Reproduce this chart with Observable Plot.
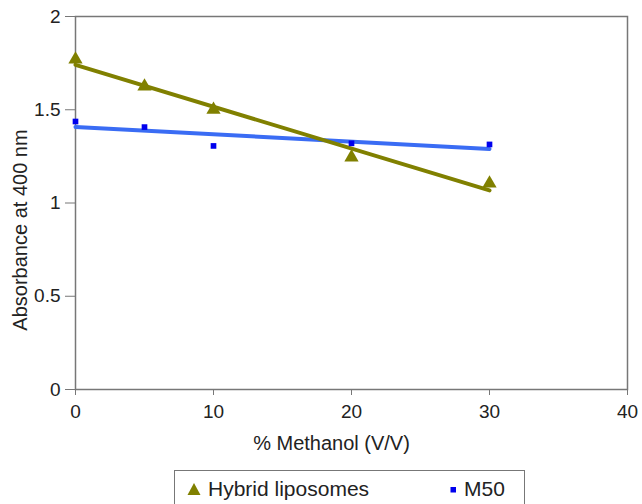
<!DOCTYPE html>
<html>
<head>
<meta charset="utf-8">
<script src="https://cdn.jsdelivr.net/npm/d3@7"></script>
<script src="https://cdn.jsdelivr.net/npm/@observablehq/plot@0.6"></script>
<style>
  html, body { margin: 0; padding: 0; background: #fff; overflow: hidden; }
  body { width: 642px; height: 504px; position: relative; font-family: "Liberation Sans", Arial, sans-serif; }
  #legend { position: absolute; left: 174px; top: 470px; width: 351px; height: 40px; border: 1.5px solid #777; box-sizing: border-box; font-size: 21px; color: #222; }
  #legend .item { position: absolute; top: 6px; display: flex; align-items: center; }
  #legend svg { margin-right: 7px; }
</style>
</head>
<body>
<div id="chart"></div>
<div id="legend"></div>
<script>
const methanol = [0, 5, 10, 20, 30];
const hybrid = [1.77, 1.625, 1.50, 1.245, 1.105];
const m50 = [1.437, 1.407, 1.306, 1.32, 1.314];
const xTicks = [0, 10, 20, 30, 40];
const yTicks = [0, 0.5, 1, 1.5, 2];
const seriesNames = ["Hybrid liposomes", "M50"];
const colors = { hybridMarker: "#808000", hybridLine: "#808000", m50Marker: "#0000ee", m50Line: "#3a6cf4" };

const hybridData = methanol.map((x, i) => ({ x, y: hybrid[i] }));
const m50Data = methanol.map((x, i) => ({ x, y: m50[i] }));

const chart = Plot.plot({
  width: 642,
  height: 465,
  marginLeft: 75,
  marginRight: 15,
  marginTop: 16,
  marginBottom: 76,
  style: { fontFamily: "Liberation Sans, Arial, sans-serif", fontSize: "19px", color: "#222", background: "#fff" },
  x: { domain: [0, 40] },
  y: { domain: [0, 2] },
  marks: [
    Plot.frame({ stroke: "#777", strokeWidth: 1.5 }),
    Plot.axisX({ ticks: xTicks, tickSize: 6, tickPadding: 9, label: null, stroke: "#777", fontSize: 19 }),
    Plot.axisY({ ticks: yTicks, tickSize: 10, tickPadding: 5, label: null, stroke: "#777", fontSize: 19, tickFormat: d => String(d) }),
    Plot.text(["% Methanol (V/V)"], { frameAnchor: "bottom", textAnchor: "middle", dx: -20, dy: 54, fontSize: 20, lineAnchor: "middle", fill: "#222" }),
    Plot.text(["Absorbance at 400 nm"], { frameAnchor: "left", textAnchor: "middle", rotate: -90, dx: -55, dy: 27, fontSize: 20, lineAnchor: "middle", fill: "#222" }),
    Plot.linearRegressionY(m50Data, { x: "x", y: "y", ci: 0, stroke: colors.m50Line, strokeWidth: 4 }),
    Plot.linearRegressionY(hybridData, { x: "x", y: "y", ci: 0, stroke: colors.hybridLine, strokeWidth: 4 }),
    Plot.dot(hybridData, { x: "x", y: "y", symbol: "triangle", r: 5.3, fill: colors.hybridMarker, stroke: "none" }),
    Plot.dot(m50Data, { x: "x", y: "y", symbol: "square", r: 3.2, fill: colors.m50Marker, stroke: "none" })
  ]
});
document.getElementById("chart").appendChild(chart);

const legend = document.getElementById("legend");
legend.innerHTML =
  `<div class="item" style="left:12px"><svg width="14" height="14" viewBox="0 0 14 14"><polygon points="7,1 13.5,13 0.5,13" fill="${colors.hybridMarker}"/></svg><span>${seriesNames[0]}</span></div>` +
  `<div class="item" style="left:275px"><svg width="7" height="14" viewBox="0 0 7 14"><rect x="0.5" y="5" width="5.5" height="5.5" fill="${colors.m50Marker}"/></svg><span>${seriesNames[1]}</span></div>`;
</script>
</body>
</html>
